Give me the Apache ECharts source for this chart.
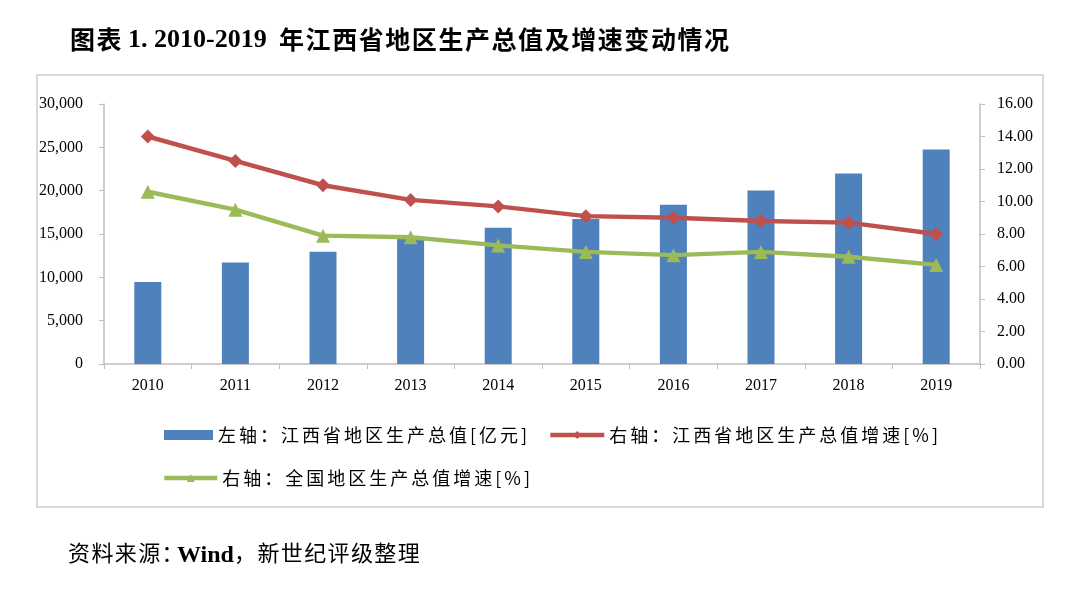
<!DOCTYPE html>
<html><head><meta charset="utf-8">
<script src="https://cdn.jsdelivr.net/npm/echarts@6/dist/echarts.min.js"></script>
<style>html,body{margin:0;padding:0;background:#fff;}#c{width:1080px;height:596px;}</style>
</head><body><div id="c"></div>
<script>
const years = ['2010','2011','2012','2013','2014','2015','2016','2017','2018','2019'];
const gdpJiangxi = [9451.3, 11702.8, 12948.9, 14410.2, 15714.6, 16723.8, 18364.4, 20006.3, 21984.8, 24757.5];
const growthJiangxi = [14.0, 12.5, 11.0, 10.1, 9.7, 9.1, 9.0, 8.8, 8.7, 8.0];
const growthNational = [10.6, 9.5, 7.9, 7.8, 7.3, 6.9, 6.7, 6.9, 6.6, 6.1];
const yLeftTicks = [0, 5000, 10000, 15000, 20000, 25000, 30000];
const yRightTicks = [0, 2, 4, 6, 8, 10, 12, 14, 16];
const nameBar = '左轴：江西省地区生产总值[亿元]';
const nameRed = '右轴：江西省地区生产总值增速[%]';
const nameGreen = '右轴：全国地区生产总值增速[%]';
const titleCn1 = '图表';
const titleNum = '1. 2010-2019';
const titleCn2 = '年江西省地区生产总值及增速变动情况';
const srcA = '资料来源：';
const srcB = 'Wind';
const srcC = '，新世纪评级整理';

// small letter-spacing via narrow space characters (imitates the spaced CJK typesetting)
const sp = s => Array.from(s).join('\u2006');
const hs = s => Array.from(s).join('\u200A');

const serif = "'Liberation Serif','Times New Roman',serif";
const cjk = "'Noto Sans CJK SC','DejaVu Sans',sans-serif";
const axisColor = '#bfbfbf';

function txt(x, y, text, family, size, weight, vAlign) {
  return {type: 'text', x: x, y: y, silent: true,
    style: {text: text, fontFamily: family, fontSize: size, fontWeight: weight || 'normal',
            fill: '#000', verticalAlign: vAlign || 'middle', align: 'left'}};
}

const chart = echarts.init(document.getElementById('c'), null, {renderer: 'canvas'});
const legendText = {fontFamily: cjk, fontSize: 18, color: '#000'};
chart.setOption({
  backgroundColor: '#fff',
  animation: false,
  graphic: [
    {type: 'rect', shape: {x: 37, y: 75, width: 1006, height: 432},
     style: {fill: 'none', stroke: '#d9d9d9', lineWidth: 2}, z: -1},
    txt(70, 39, hs(titleCn1), cjk, 25, 'bold'),
    txt(128, 40, titleNum, serif, 26, 'bold'),
    txt(279, 39, hs(titleCn2), cjk, 25, 'bold'),
    txt(68, 553, hs(srcA), cjk, 22),
    txt(177, 556, srcB, serif, 24, 'bold'),
    txt(234, 553, hs(srcC), cjk, 22)
  ],
  legend: [
    {left: 159, top: 421, itemWidth: 49, itemHeight: 10, icon: 'rect',
     data: [nameBar], formatter: n => sp(n), textStyle: legendText},
    {left: 543, top: 421, itemWidth: 54, itemHeight: 10,
     lineStyle: {width: 4.5},
     data: [nameRed], formatter: n => sp(n), textStyle: legendText},
    {left: 157, top: 464, itemWidth: 53, itemHeight: 10,
     lineStyle: {width: 4.5},
     data: [nameGreen], formatter: n => sp(n), textStyle: legendText}
  ],
  grid: {left: 104, right: 100, top: 104, bottom: 232, containLabel: false},
  xAxis: {
    type: 'category', data: years,
    axisLine: {lineStyle: {color: axisColor, width: 1.5}},
    axisTick: {show: true, length: 5, lineStyle: {color: axisColor}},
    axisLabel: {fontFamily: serif, fontSize: 16, color: '#000', margin: 14}
  },
  yAxis: [
    {type: 'value', min: yLeftTicks[0], max: yLeftTicks[yLeftTicks.length-1], interval: yLeftTicks[1]-yLeftTicks[0], position: 'left',
     splitLine: {show: false},
     axisLine: {show: true, lineStyle: {color: axisColor, width: 1.5}},
     axisTick: {show: true, length: 5, lineStyle: {color: axisColor}},
     axisLabel: {fontFamily: serif, fontSize: 16, color: '#000', margin: 21,
       formatter: v => v.toLocaleString('en-US')}},
    {type: 'value', min: yRightTicks[0], max: yRightTicks[yRightTicks.length-1], interval: yRightTicks[1]-yRightTicks[0], position: 'right',
     splitLine: {show: false},
     axisLine: {show: true, lineStyle: {color: axisColor, width: 1.5}},
     axisTick: {show: true, length: 5, lineStyle: {color: axisColor}},
     axisLabel: {fontFamily: serif, fontSize: 16, color: '#000', margin: 17,
       formatter: v => v.toFixed(2)}}
  ],
  series: [
    {name: nameBar, type: 'bar', data: gdpJiangxi, yAxisIndex: 0, barWidth: 27,
     itemStyle: {color: '#4F81BD'}},
    {name: nameRed, type: 'line', data: growthJiangxi, yAxisIndex: 1,
     symbol: 'diamond', symbolSize: 14,
     lineStyle: {color: '#C0504D', width: 4.5}, itemStyle: {color: '#C0504D'}},
    {name: nameGreen, type: 'line', data: growthNational, yAxisIndex: 1,
     symbol: 'triangle', symbolSize: 14,
     lineStyle: {color: '#9BBB59', width: 4.5}, itemStyle: {color: '#9BBB59'}}
  ]
});
</script></body></html>
